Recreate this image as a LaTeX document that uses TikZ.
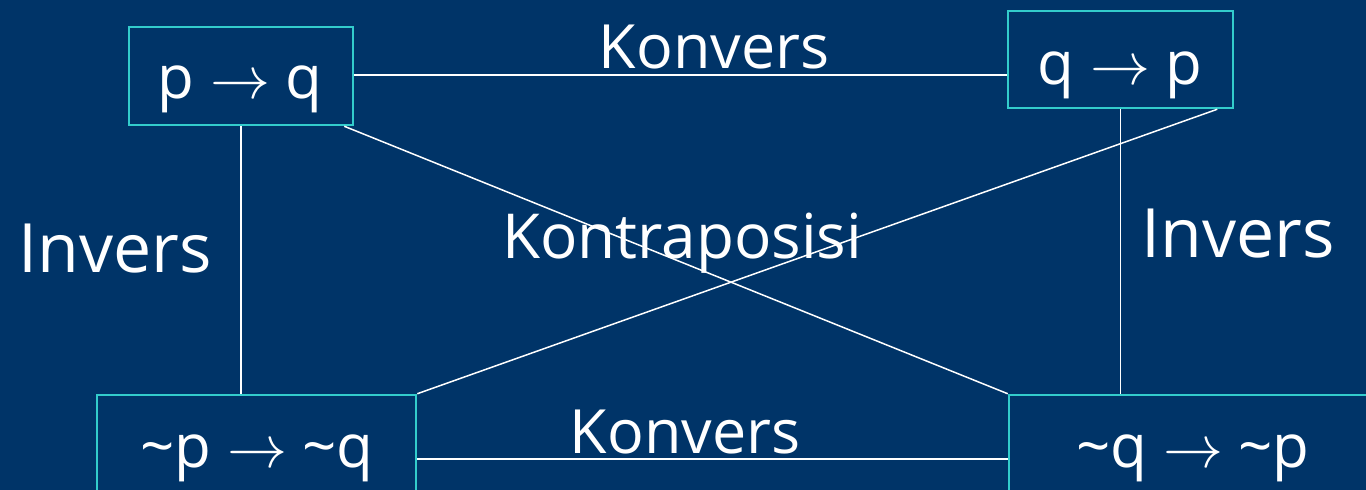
\RequirePackage{fix-cm}
\documentclass[tikz,border=0pt]{standalone}
\usepackage{fontspec}
\setmainfont{Open Sans}
\usetikzlibrary{calc}
\definecolor{bgblue}{RGB}{0,52,104}
\definecolor{boxcyan}{RGB}{51,204,204}
\begin{document}
\begin{tikzpicture}[x=1pt,y=-1pt,
  box/.style={draw=boxcyan,line width=2.5pt,rectangle,inner sep=0pt},
  link/.style={draw=white,line width=1.5pt},
  lbl/.style={text=white,anchor=base,inner sep=0pt,font=\fontsize{61}{61}\selectfont},
  formula/.style={text=white,anchor=base,inner sep=0pt,font=\fontsize{60}{60}\selectfont}]
  \fill[bgblue] (0,0) rectangle (1366,490);
  \useasboundingbox (0,0) rectangle (1366,490);
  \clip (0,0) rectangle (1366,490);
  % the four statements
  \node[box,minimum width=224pt,minimum height=98pt] (A) at (241,76) {};
  \node[box,minimum width=225pt,minimum height=97pt] (B) at (1120.5,59.5) {};
  \node[box,minimum width=319pt,minimum height=120pt] (C) at (256.5,455) {};
  \node[box,minimum width=400pt,minimum height=120pt] (D) at (1209,455) {};
  \node[formula] (tA) at (240,98) {p $\rightarrow$ q};
  \node[formula] (tB) at (1120,84) {q $\rightarrow$ p};
  \node[formula] (tC) at (257,467) {\textasciitilde p $\rightarrow$ \textasciitilde q};
  \node[formula] (tD) at (1193,467) {\textasciitilde q $\rightarrow$ \textasciitilde p};
  % connections
  \coordinate (Aout) at ($(A.south east)+(-10,0)$);
  \coordinate (Bout) at ($(B.south east)+(-17,0)$);
  \draw[link] (A.east|-0,75) -- (B.west|-0,75);
  \draw[link] (C.east|-0,459) -- (D.west|-0,459);
  \draw[link] (A.south) -- (A.south|-C.north);
  \draw[link] (B.south) -- (B.south|-D.north);
  \draw[link] (Aout) -- (D.north west);
  \draw[link] (Bout) -- (C.north east);
  % relation labels
  \node[lbl] (k1) at (714,68) {Konvers};
  \node[lbl] (k2) at (685,453) {Konvers};
  \node[lbl,font=\fontsize{68}{68}\selectfont] (i1) at (115,272) {Invers};
  \node[lbl,font=\fontsize{68}{68}\selectfont] (i2) at (1238,257) {Invers};
  \node[lbl,font=\fontsize{62}{62}\selectfont] (kp) at (682,258) {Kontraposisi};
\end{tikzpicture}
\end{document}
